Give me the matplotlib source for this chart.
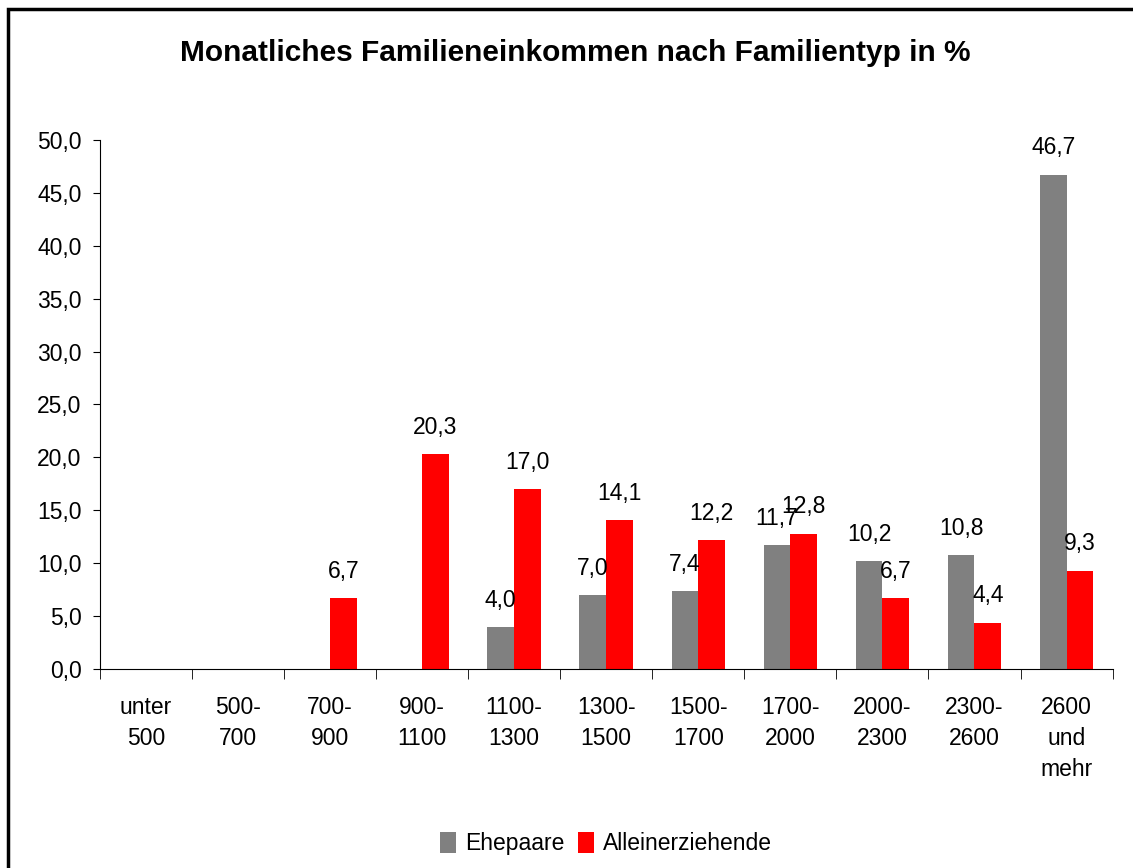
import numpy as np
import matplotlib.pyplot as plt
from matplotlib.patches import Rectangle
from matplotlib.ticker import FuncFormatter

# data
kategorien = ['unter\n500', '500-\n700', '700-\n900', '900-\n1100', '1100-\n1300', '1300-\n1500',
              '1500-\n1700', '1700-\n2000', '2000-\n2300', '2300-\n2600', '2600\nund\nmehr']
ehepaare = [0, 0, 0, 0, 4.0, 7.0, 7.4, 11.7, 10.2, 10.8, 46.7]
alleinerziehende = [0, 0, 6.7, 20.3, 17.0, 14.1, 12.2, 12.8, 6.7, 4.4, 9.3]

plt.rcParams['font.family'] = ['Liberation Sans', 'DejaVu Sans']
fs = 16.5

fig = plt.figure(figsize=(11.33, 8.68), dpi=100)
ax = fig.add_axes([0.088, 0.229, 0.894, 0.61])

# frame around the whole chart
fig.patches.append(Rectangle((8 / 1133, -0.05), 1.1, 1 - 9 / 868 + 0.05, transform=fig.transFigure,
                             fill=False, edgecolor='black', linewidth=2.5))

x = np.arange(len(kategorien))
w = 0.29
b1 = ax.bar(x - w / 2, ehepaare, w, color='#808080', label='Ehepaare')
b2 = ax.bar(x + w / 2, alleinerziehende, w, color='#ff0000', label='Alleinerziehende')

# value labels (only non-zero)
for bars, vals in [(b1, ehepaare), (b2, alleinerziehende)]:
    for rect, v in zip(bars, vals):
        if v > 0:
            ax.annotate(f'{v:.1f}'.replace('.', ','), (rect.get_x() + rect.get_width() / 2, v),
                        xytext=(0, 11), textcoords='offset points', ha='center', va='bottom', fontsize=fs)

ax.set_xlim(-0.5, len(kategorien) - 0.5)
ax.set_ylim(0, 50)
ax.set_yticks(np.arange(0, 51, 5))
ax.yaxis.set_major_formatter(FuncFormatter(lambda v, p: f'{v:.1f}'.replace('.', ',')))
ax.set_xticks(x)
ax.set_xticklabels(kategorien, linespacing=1.45)
ax.set_xticks(np.arange(-0.5, len(kategorien)), minor=True)
ax.tick_params(axis='x', which='major', length=0, pad=19, labelsize=fs)
ax.tick_params(axis='x', which='minor', length=7, direction='out')
ax.tick_params(axis='y', length=5, direction='out', labelsize=fs, pad=8)

ax.spines['top'].set_visible(False)
ax.spines['right'].set_visible(False)

fig.text(0.508, 0.939, 'Monatliches Familieneinkommen nach Familientyp in %', ha='center', va='center',
         fontsize=21.5, fontweight='bold')

fig.legend(loc='center', bbox_to_anchor=(0.535, 0.028), ncol=2, frameon=False, fontsize=fs,
           handlelength=0.7, handleheight=1.0, handletextpad=0.4, columnspacing=0.6)

plt.savefig('out.png', dpi=100)
